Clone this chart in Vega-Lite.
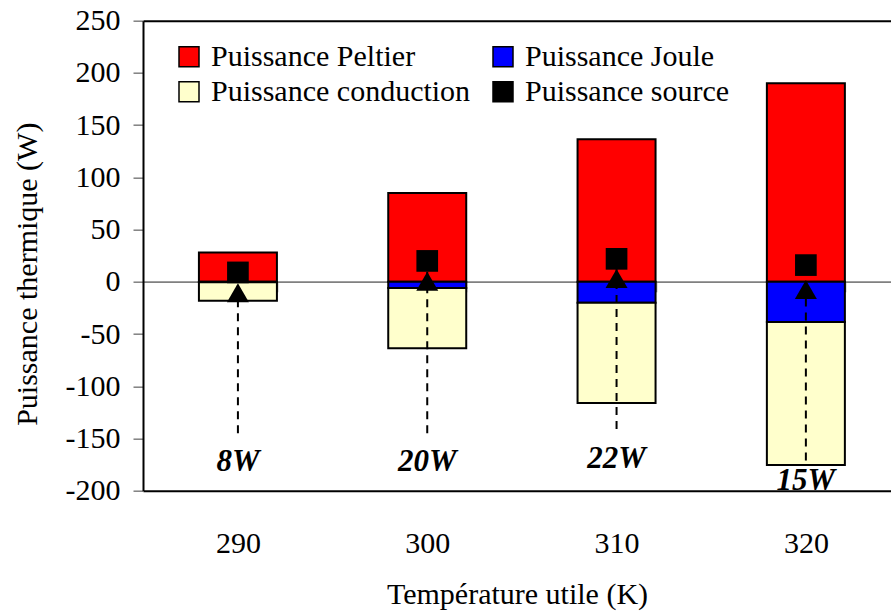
{
  "$schema": "https://vega.github.io/schema/vega-lite/v6.json",
  "width": 748,
  "height": 470,
  "autosize": {"type": "none"},
  "padding": {"left": 143, "top": 20.7, "right": 0, "bottom": 123.3},
  "background": "white",
  "view": {"stroke": null},
  "config": {"font": "Liberation Serif"},
  "datasets": {
    "barres": [
      {"T": "290", "serie": "Puissance Peltier", "P": 28, "ordre": 1},
      {"T": "290", "serie": "Puissance Joule", "P": -0.5, "ordre": 2},
      {"T": "290", "serie": "Puissance conduction", "P": -17.6, "ordre": 3},
      {"T": "300", "serie": "Puissance Peltier", "P": 85, "ordre": 1},
      {"T": "300", "serie": "Puissance Joule", "P": -6, "ordre": 2},
      {"T": "300", "serie": "Puissance conduction", "P": -57.5, "ordre": 3},
      {"T": "310", "serie": "Puissance Peltier", "P": 136.5, "ordre": 1},
      {"T": "310", "serie": "Puissance Joule", "P": -20, "ordre": 2},
      {"T": "310", "serie": "Puissance conduction", "P": -96, "ordre": 3},
      {"T": "320", "serie": "Puissance Peltier", "P": 190, "ordre": 1},
      {"T": "320", "serie": "Puissance Joule", "P": -38.5, "ordre": 2},
      {"T": "320", "serie": "Puissance conduction", "P": -137, "ordre": 3}
    ],
    "source": [
      {"T": "290", "source": 9, "etiquette": "8W", "fleche_haut": -1.4, "fleche_bas": -145, "y_etiquette": -181.5},
      {"T": "300", "source": 20, "etiquette": "20W", "fleche_haut": 9.7, "fleche_bas": -145, "y_etiquette": -181.5},
      {"T": "310", "source": 22, "etiquette": "22W", "fleche_haut": 12.3, "fleche_bas": -141, "y_etiquette": -178.6},
      {"T": "320", "source": 16, "etiquette": "15W", "fleche_haut": 1.7, "fleche_bas": -171, "y_etiquette": -199.5}
    ]
  },
  "layer": [
    {
      "data": {"name": "barres"},
      "mark": {"type": "bar", "stroke": "black", "strokeWidth": 2},
      "encoding": {
        "x": {
          "field": "T", "type": "ordinal", "title": "Température utile (K)",
          "scale": {"domain": ["290", "300", "310", "320"], "paddingInner": 0.588, "paddingOuter": 0.2695, "align": 0.548},
          "axis": {
            "orient": "bottom", "offset": -208.9,
            "domainColor": "#808080", "domainWidth": 1.5,
            "tickColor": "#808080", "tickWidth": 1.5, "tickSize": 10, "tickBand": "extent",
            "labelAngle": 0, "labelFont": "Liberation Serif", "labelFontSize": 30, "labelColor": "black", "labelPadding": 237,
            "titleFont": "Liberation Serif", "titleFontSize": 30, "titleFontWeight": "normal", "titleColor": "black",
            "titleY": 313, "titleBaseline": "middle"
          }
        },
        "y": {
          "field": "P", "type": "quantitative", "stack": "zero", "title": "Puissance thermique (W)",
          "scale": {"domain": [-200, 250], "nice": false, "zero": false},
          "axis": {
            "values": [-200, -150, -100, -50, 0, 50, 100, 150, 200, 250],
            "labelExpr": "datum.value + ''",
            "labelOverlap": false, "labelFlush": false, "labelBound": false,
            "labelFont": "Liberation Serif", "labelFontSize": 30, "labelColor": "black", "labelPadding": 13,
            "tickColor": "#808080", "tickSize": 10, "tickWidth": 1.5,
            "domainColor": "black", "domainWidth": 2,
            "grid": true,
            "gridColor": {"condition": {"test": "datum.value === 0", "value": "#808080"}, "value": "black"},
            "gridOpacity": {"condition": {"test": "datum.value === 0 || datum.value === 250 || datum.value === -200", "value": 1}, "value": 0},
            "gridWidth": {"condition": {"test": "datum.value === 0", "value": 1.5}, "value": 2},
            "titleFont": "Liberation Serif", "titleFontSize": 30, "titleFontWeight": "normal", "titleColor": "black",
            "titleX": -116, "titleY": 253, "titleAngle": -90, "titleBaseline": "middle", "titleAlign": "center"
          }
        },
        "color": {
          "field": "serie", "type": "nominal",
          "scale": {"domain": ["Puissance Peltier", "Puissance Joule", "Puissance conduction", "Puissance source"], "range": ["#FF0000", "#0000FF", "#FFFFCC", "#000000"]},
          "legend": {
            "orient": "none", "legendX": 31, "legendY": 21, "direction": "horizontal", "columns": 2, "title": null,
            "symbolType": "square", "symbolSize": 400, "symbolStrokeColor": "black", "symbolStrokeWidth": 1.5, "symbolOpacity": 1,
            "labelFont": "Liberation Serif", "labelFontSize": 30, "labelColor": "black", "labelOffset": 7, "labelLimit": 400,
            "columnPadding": 17, "rowPadding": 5, "padding": 0
          }
        },
        "order": {"field": "ordre", "type": "quantitative"}
      }
    },
    {
      "data": {"name": "source"},
      "mark": {"type": "rule", "color": "black", "strokeWidth": 2, "strokeDash": [8, 6]},
      "encoding": {
        "x": {"field": "T", "type": "ordinal", "title": "Température utile (K)"},
        "y": {"field": "fleche_bas", "type": "quantitative", "title": "Puissance thermique (W)"},
        "y2": {"field": "fleche_haut"}
      }
    },
    {
      "data": {"name": "source"},
      "mark": {"type": "point", "shape": "square", "filled": true, "color": "black", "size": 470, "opacity": 1},
      "encoding": {
        "x": {"field": "T", "type": "ordinal", "title": "Température utile (K)"},
        "y": {"field": "source", "type": "quantitative", "title": "Puissance thermique (W)"}
      }
    },
    {
      "data": {"name": "source"},
      "mark": {"type": "point", "shape": "triangle-up", "filled": true, "color": "black", "size": 484, "opacity": 1, "yOffset": 9.5},
      "encoding": {
        "x": {"field": "T", "type": "ordinal", "title": "Température utile (K)"},
        "y": {"field": "fleche_haut", "type": "quantitative", "title": "Puissance thermique (W)"}
      }
    },
    {
      "data": {"name": "source"},
      "mark": {"type": "text", "font": "Liberation Serif", "fontStyle": "italic", "fontWeight": "bold", "fontSize": 31, "baseline": "alphabetic", "align": "center", "color": "black"},
      "encoding": {
        "x": {"field": "T", "type": "ordinal", "title": "Température utile (K)"},
        "y": {"field": "y_etiquette", "type": "quantitative", "title": "Puissance thermique (W)"},
        "text": {"field": "etiquette"}
      }
    }
  ]
}
